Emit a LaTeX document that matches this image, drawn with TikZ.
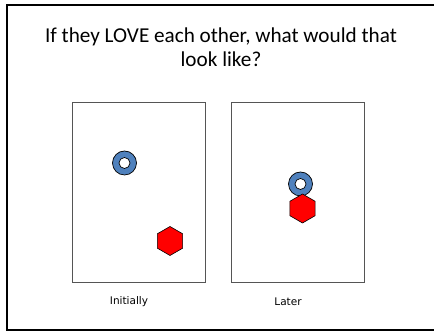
\documentclass[tikz,border=0pt]{standalone}
\usepackage{fontspec}
\setmainfont{Carlito}
\newfontfamily\labelfont{DejaVu Sans}
\usetikzlibrary{shapes.geometric}
\definecolor{ringblue}{HTML}{4F81BD}
\definecolor{boxgray}{HTML}{555555}
\begin{document}
\begin{tikzpicture}[x=1pt,y=1pt,
  panel/.style={draw=boxgray,line width=0.9pt,fill=white},
  ringouter/.style={circle,draw=black,line width=0.7pt,fill=ringblue,minimum size=24pt,inner sep=0pt},
  ringhole/.style={circle,draw=black,line width=0.7pt,fill=white,minimum size=11pt,inner sep=0pt},
  hexa/.style={regular polygon,regular polygon sides=6,shape border rotate=30,draw=black,line width=0.6pt,fill=red,minimum size=29pt,inner sep=0pt},
  caption/.style={font=\labelfont\fontsize{10.5}{12}\selectfont},
  title/.style={align=center,font=\fontsize{21.2}{23.5}\selectfont}]
\useasboundingbox (0,0) rectangle (434,331);
\draw[line width=2pt] (450,1) -- (7,1) -- (7,326) -- (450,326);
\node[title] (t) at (221,284) {If they LOVE each other, what would that\\look like?};
\node[panel,minimum width=133pt,minimum height=180pt,inner sep=0pt] (p1) at (139.2,138.3) {};
\node[panel,minimum width=133pt,minimum height=180pt,inner sep=0pt] (p2) at (297.7,138.3) {};
\node[ringouter] (r1) at (124.5,168) {};
\node[ringhole] (h1) at (r1) {};
\node[hexa] (x1) at (170,90) {};
\node[ringouter] (r2) at (300.5,147) {};
\node[ringhole] (h2) at (r2) {};
\node[hexa] (x2) at (302.5,122.5) {};
\node[caption] (c1) at (129,29.5) {Initially};
\node[caption] (c2) at (288,29.5) {Later};
\end{tikzpicture}
\end{document}
